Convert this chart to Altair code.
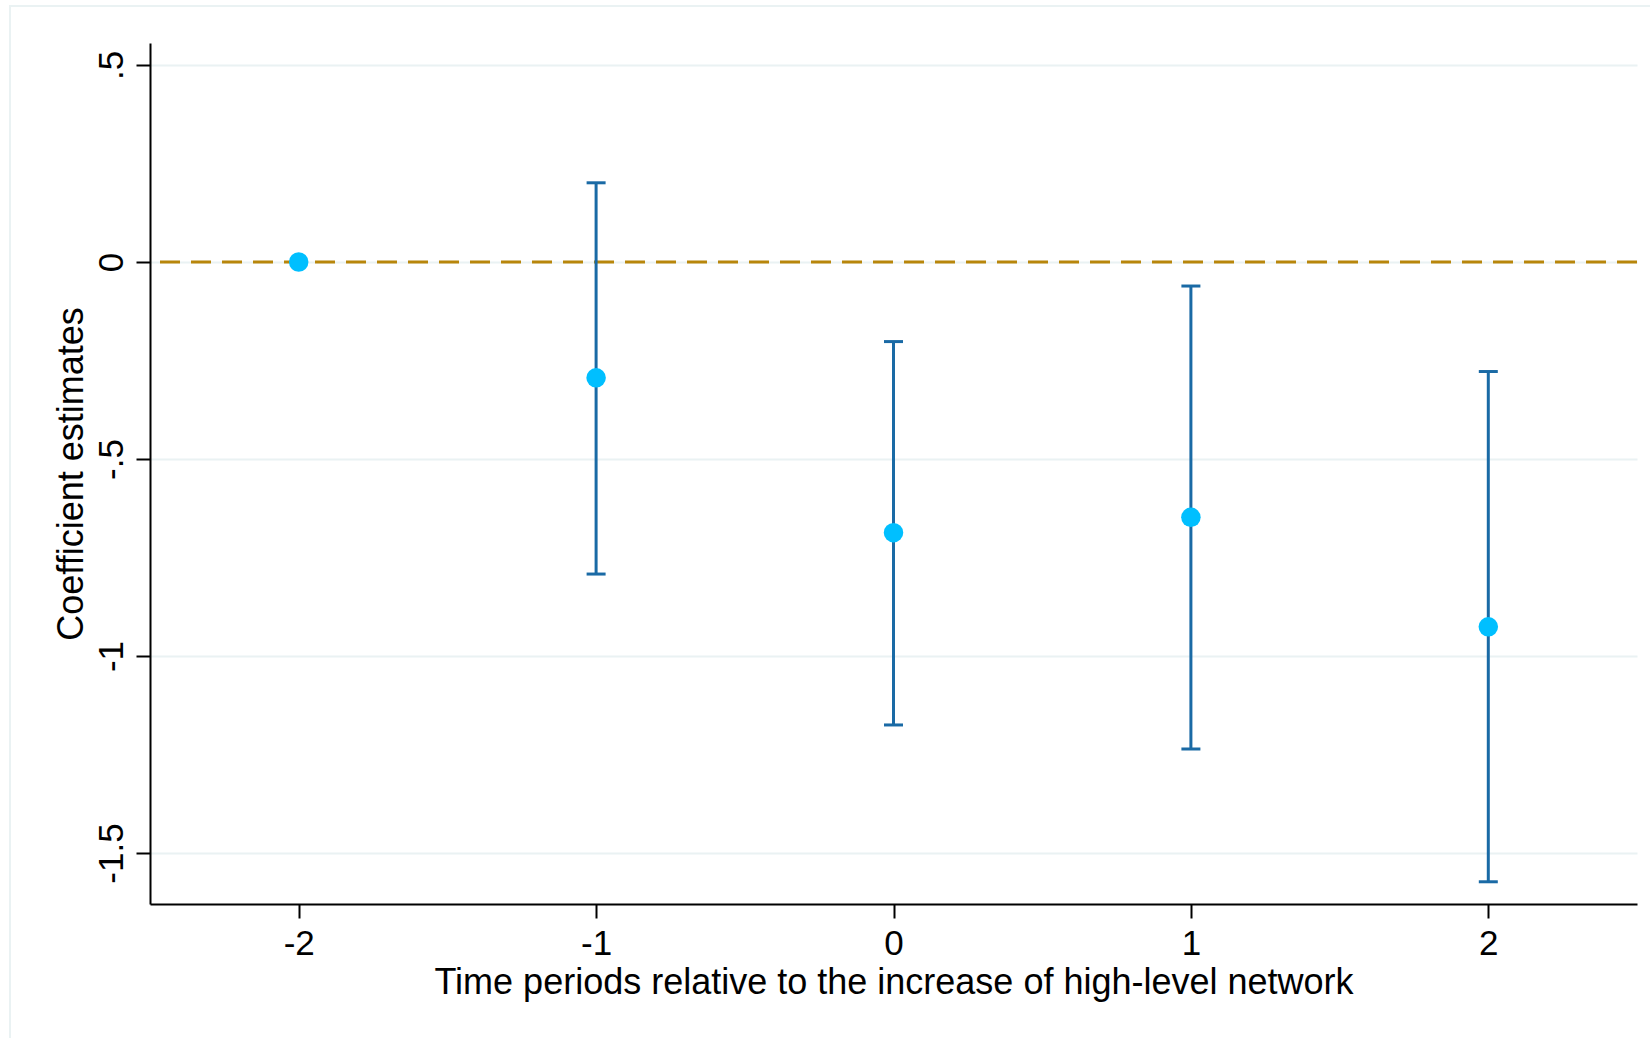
import altair as alt
import pandas as pd

# Data
periods = [-2, -1, 0, 1, 2]
coefs = [0.0, -0.294, -0.687, -0.648, -0.926]
ci_low = [None, -0.792, -1.175, -1.236, -1.573]
ci_high = [None, 0.201, -0.202, -0.061, -0.278]
x_ticks = [-2, -1, 0, 1, 2]
y_ticks = [-1.5, -1.0, -0.5, 0.0, 0.5]

x_title = "Time periods relative to the increase of high-level network"
y_title = "Coefficient estimates"

df = pd.DataFrame({"period": periods, "coef": coefs, "lo": ci_low, "hi": ci_high})

FONT = "Liberation Sans"
W, H = 1487, 861

xscale = alt.Scale(domain=[-2.5, 2.5], nice=False, zero=False)
yscale = alt.Scale(domain=[-1.6294, 0.5558], nice=False, zero=False)

xaxis = alt.Axis(
    values=x_ticks, labelExpr="'' + datum.value", title=x_title, grid=False,
    labelFontSize=35, titleFontSize=36, labelFont=FONT, titleFont=FONT,
    labelColor="black", titleColor="black", titleFontWeight="normal",
    domainColor="black", domainWidth=2, tickColor="black", tickWidth=2,
    tickSize=14, labelPadding=8, titleY=89, titleBaseline="alphabetic",
    labelFlush=False,
)
yaxis = alt.Axis(
    values=y_ticks, labelExpr="replace('' + datum.value, '0.', '.')", title=y_title,
    grid=True, gridColor="#EAF2F3", gridWidth=2,
    labelFontSize=35, titleFontSize=36, labelFont=FONT, titleFont=FONT,
    labelColor="black", titleColor="black", titleFontWeight="normal",
    domainColor="black", domainWidth=2, tickColor="black", tickWidth=2,
    tickSize=14, labelPadding=14, labelAngle=-90, labelAlign="center",
    labelBaseline="alphabetic", titleX=-68, titleBaseline="alphabetic",
    labelFlush=False,
)

frame = alt.Chart(pd.DataFrame({"a": [0]})).mark_rect(
    filled=False, stroke="#EAF2F3", strokeWidth=2
).encode(x=alt.value(-140), x2=alt.value(1600), y=alt.value(-37), y2=alt.value(1100))

base = alt.Chart(df)

points_axes = base.mark_circle(size=380, opacity=1, color="#00BFFF").encode(
    x=alt.X("period:Q", scale=xscale, axis=xaxis),
    y=alt.Y("coef:Q", scale=yscale, axis=yaxis),
)

zero_line = alt.Chart(pd.DataFrame({"z": [0.0]})).mark_rule(
    color="#B8860B", strokeWidth=3, strokeDash=[20, 11]
).encode(y=alt.Y("z:Q", scale=yscale))

ci = base.transform_filter("isValid(datum.lo)").mark_rule(
    color="#1A6AA5", strokeWidth=3
).encode(
    x=alt.X("period:Q", scale=xscale),
    y=alt.Y("lo:Q", scale=yscale),
    y2="hi:Q",
)

caps_lo = base.transform_filter("isValid(datum.lo)").mark_tick(
    orient="horizontal", size=19, thickness=3, color="#1A6AA5", opacity=1
).encode(x=alt.X("period:Q", scale=xscale), y=alt.Y("lo:Q", scale=yscale))

caps_hi = base.transform_filter("isValid(datum.hi)").mark_tick(
    orient="horizontal", size=19, thickness=3, color="#1A6AA5", opacity=1
).encode(x=alt.X("period:Q", scale=xscale), y=alt.Y("hi:Q", scale=yscale))

chart = alt.layer(
    frame, zero_line, ci, caps_lo, caps_hi, points_axes
).properties(
    width=W, height=H,
    autosize=alt.AutoSizeParams(type="none"),
    padding={"left": 150, "top": 43, "right": 13, "bottom": 134},
    background="white",
).configure_view(strokeWidth=0)

chart.save("out.html", embed_options={"renderer": "svg", "actions": False})
